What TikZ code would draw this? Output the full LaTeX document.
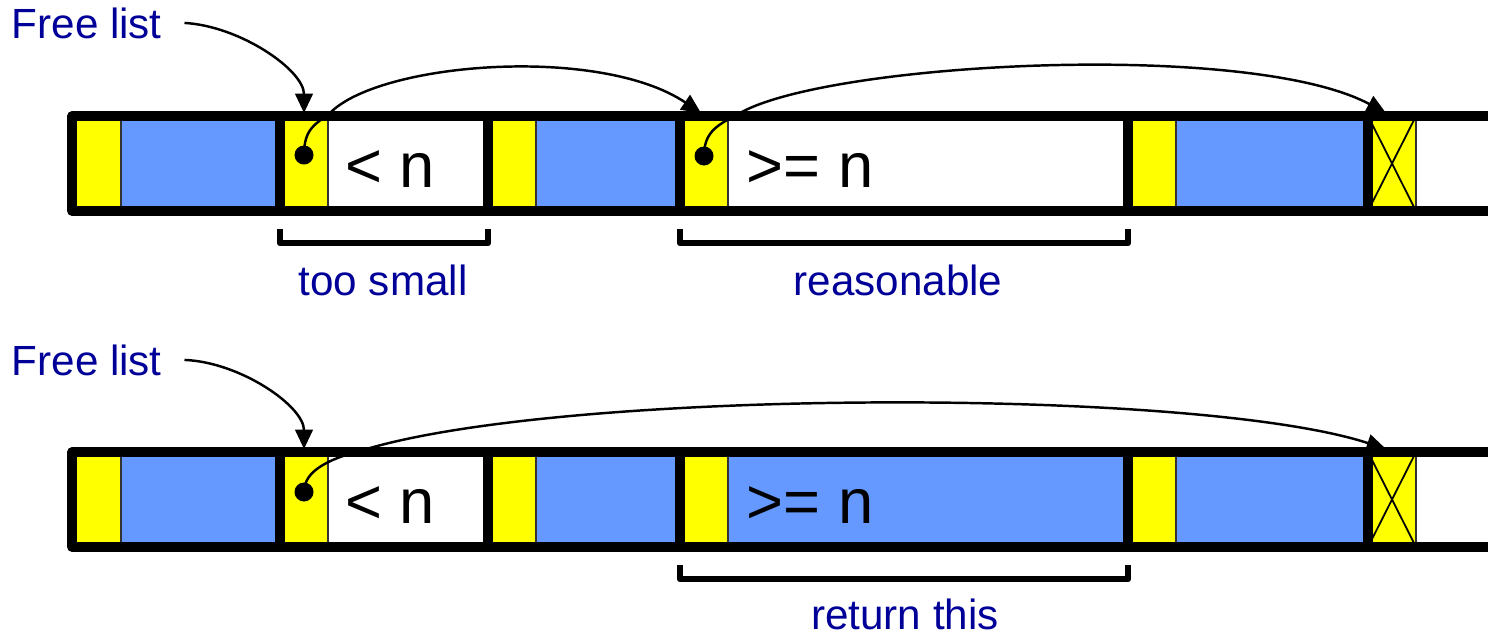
\documentclass[tikz,border=0pt]{standalone}
\usepackage{fontspec}
\setmainfont{Liberation Sans}
\usetikzlibrary{arrows.meta}

\definecolor{hdryellow}{RGB}{255,255,0}
\definecolor{blkblue}{RGB}{102,153,255}
\definecolor{lblblue}{RGB}{0,0,153}

\tikzset{
  cellhdr/.style={fill=hdryellow, draw=black!80, line width=0.5pt},
  cellused/.style={fill=blkblue, draw=black!80, line width=0.5pt},
  cellfree/.style={fill=white, draw=black!80, line width=0.5pt},
  barframe/.style={line width=2.6pt, line join=round},
  bracket/.style={line width=1.8pt, line join=round},
  lbltxt/.style={text=lblblue, inner sep=0pt, font=\fontsize{12}{14}\selectfont},
  sizetxt/.style={inner sep=0pt, font=\fontsize{18}{21}\selectfont},
  ptr/.style={-{Triangle[length=5.5pt,width=5pt]}, line width=0.7pt},
  ptrdot/.style={circle, fill=black, inner sep=0pt, minimum size=1.9mm}
}

\begin{document}
\begin{tikzpicture}[x=0.01cm,y=-0.01cm]
\useasboundingbox (0,0) rectangle (1488,635);
%Top heap: cells
\draw[cellhdr] (72,116) rectangle node (h11) {} (121,211);
\draw[cellused] (121,116) rectangle node (b11) {} (280,211);
\draw[cellhdr] (280,116) rectangle node (h12) {} (328,211);
\draw[cellfree] (328,116) rectangle node (b12) {} (488,211);
\draw[cellhdr] (488,116) rectangle node (h13) {} (536,211);
\draw[cellused] (536,116) rectangle node (b13) {} (680,211);
\draw[cellhdr] (680,116) rectangle node (h14) {} (728,211);
\draw[cellfree] (728,116) rectangle node (b14) {} (1128,211);
\draw[cellhdr] (1128,116) rectangle node (h15) {} (1176,211);
\draw[cellused] (1176,116) rectangle node (b15) {} (1368,211);
\draw[cellhdr] (1368,116) rectangle node (h16) {} (1416,211);
\draw[line width=0.5pt] (1368,116) -- (1416,211) (1416,116) -- (1368,211);
\draw[barframe] (1490,116) -- (72,116) -- (72,211) -- (1490,211);
\draw[barframe] (280,116) -- (280,211);
\draw[barframe] (488,116) -- (488,211);
\draw[barframe] (680,116) -- (680,211);
\draw[barframe] (1128,116) -- (1128,211);
\draw[barframe] (1368,116) -- (1368,211);
\node[sizetxt, anchor=base] (s12) at (390,187) {< n};
\node[sizetxt, anchor=base] (s14) at (810,187) {>= n};
%Bottom heap: cells
\draw[cellhdr] (72,452) rectangle node (h21) {} (121,547);
\draw[cellused] (121,452) rectangle node (b21) {} (280,547);
\draw[cellhdr] (280,452) rectangle node (h22) {} (328,547);
\draw[cellfree] (328,452) rectangle node (b22) {} (488,547);
\draw[cellhdr] (488,452) rectangle node (h23) {} (536,547);
\draw[cellused] (536,452) rectangle node (b23) {} (680,547);
\draw[cellhdr] (680,452) rectangle node (h24) {} (728,547);
\draw[cellused] (728,452) rectangle node (b24) {} (1128,547);
\draw[cellhdr] (1128,452) rectangle node (h25) {} (1176,547);
\draw[cellused] (1176,452) rectangle node (b25) {} (1368,547);
\draw[cellhdr] (1368,452) rectangle node (h26) {} (1416,547);
\draw[line width=0.5pt] (1368,452) -- (1416,547) (1416,452) -- (1368,547);
\draw[barframe] (1490,452) -- (72,452) -- (72,547) -- (1490,547);
\draw[barframe] (280,452) -- (280,547);
\draw[barframe] (488,452) -- (488,547);
\draw[barframe] (680,452) -- (680,547);
\draw[barframe] (1128,452) -- (1128,547);
\draw[barframe] (1368,452) -- (1368,547);
\node[sizetxt, anchor=base] (s22) at (390,523) {< n};
\node[sizetxt, anchor=base] (s24) at (810,523) {>= n};
%Labels and brackets
\node[lbltxt, anchor=base west] (free1) at (11,38) {Free list};
\node[lbltxt, anchor=base west] (free2) at (11,375) {Free list};
\node[lbltxt, anchor=base] (small) at (383,295) {too small};
\node[lbltxt, anchor=base] (reason) at (898,295) {reasonable};
\node[lbltxt, anchor=base] (ret) at (905,629) {return this};
\draw[bracket] (280,229) -- (280,243) -- (488,243) -- (488,229);
\draw[bracket] (680,229) -- (680,243) -- (1128,243) -- (1128,229);
\draw[bracket] (680,565) -- (680,579) -- (1128,579) -- (1128,565);
%Pointers
\node[ptrdot] (p12) at (304,155) {};
\node[ptrdot] (p14) at (704,156) {};
\node[ptrdot] (p22) at (304,492) {};
\coordinate (t12) at (304,113);
\coordinate (t14) at (701,113);
\coordinate (t16) at (1386,113);
\coordinate (t22) at (304,449);
\coordinate (t26) at (1386,449);
\draw[ptr] ([xshift=2.2mm]free1.east) .. controls (240,26) and (304,70) .. (t12);
\draw[ptr] (p12.center) .. controls (304,128) and (316,124) .. (330,113) .. controls (380,62) and (600,45) .. (t14);
\draw[ptr] (p14.center) .. controls (704,130) and (720,124) .. (740,113) .. controls (830,62) and (1250,40) .. (t16);
\draw[ptr] ([xshift=2.2mm]free2.east) .. controls (240,362) and (304,406) .. (t22);
\draw[ptr] (p22.center) .. controls (304,470) and (330,458) .. (370,448) .. controls (580,388) and (1200,388) .. (t26);
\end{tikzpicture}
\end{document}
